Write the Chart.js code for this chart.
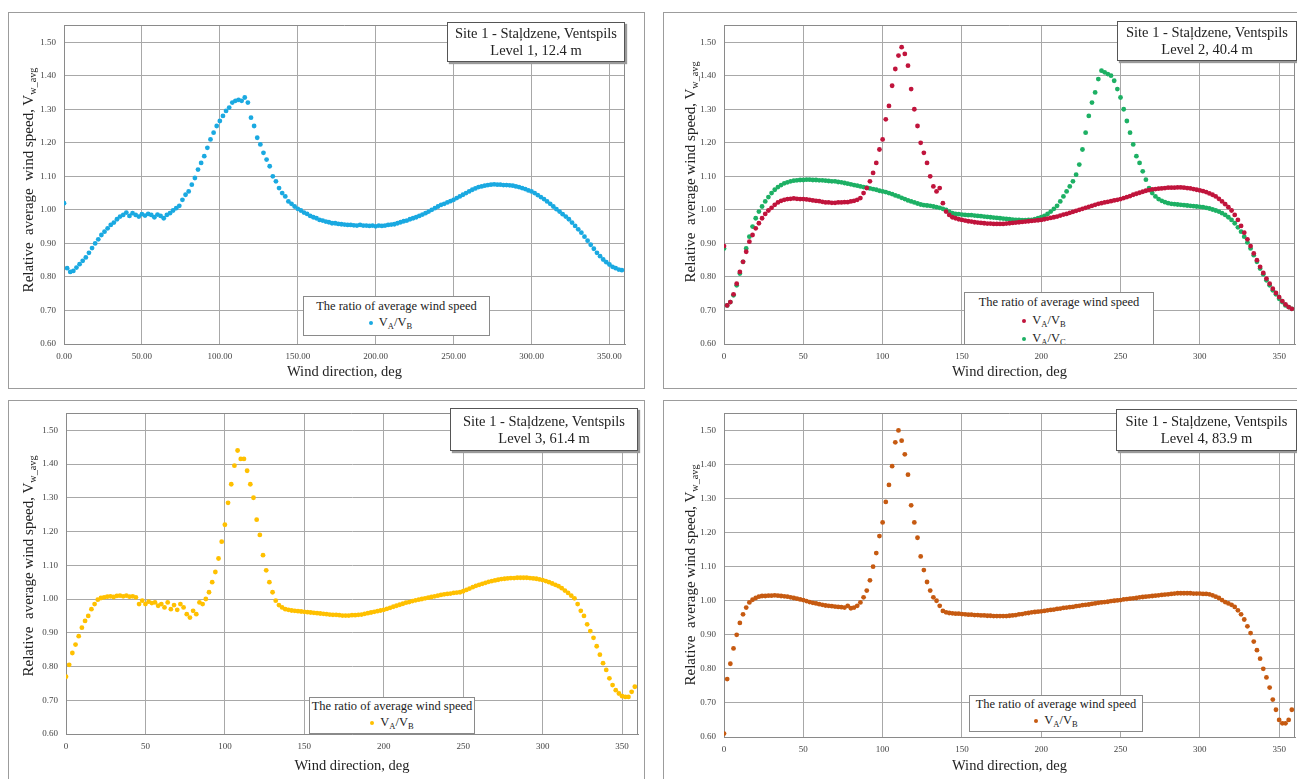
<!DOCTYPE html>
<html>
<head>
<meta charset="utf-8">
<title>Relative average wind speed - Site 1</title>
<script src="https://cdn.jsdelivr.net/npm/chart.js@4.4.1/dist/chart.umd.min.js"></script>
<style>
  html, body { margin: 0; padding: 0; }
  body { width: 1297px; height: 779px; overflow: hidden; position: relative; background: #fff;
         font-family: "Liberation Serif", "Times New Roman", serif; color: #222; }
  .panel { position: absolute; border: 1px solid #9c9c9c; box-sizing: border-box; background: #fff; }
  .panel canvas { position: absolute; left: -1px; top: -1px; }
  .titulo { position: absolute; z-index: 2; box-sizing: border-box; border: 1px solid #555; box-shadow: 2px 2px 1px #9a9a9a;
            background: #fff; text-align: center; font-size: 14.5px; line-height: 17px;
            display: flex; flex-direction: column; justify-content: center; }
  .leyenda { position: absolute; z-index: 2; box-sizing: border-box; border: 1px solid #8a8a8a; background: #fff;
             text-align: center; font-size: 12.5px; line-height: 16px; overflow: hidden; padding-top: 1px; }
  .ytitulo { position: absolute; z-index: 2; white-space: nowrap; font-size: 15px;
             transform: translate(-50%, -50%) rotate(-90deg); }
  sub { font-size: 0.68em; vertical-align: -0.35em; line-height: 0; }
  .punto { display: inline-block; width: 4px; height: 4px; border-radius: 50%; vertical-align: middle; margin-right: 6px; }
</style>
</head>
<body>

<div class="ytitulo" style="left:28px;top:180px">Relative&nbsp; average&nbsp; wind speed, V<sub>w_avg</sub></div>
<div class="ytitulo" style="left:690px;top:172px">Relative&nbsp; average wind speed, V<sub>w_avg</sub></div>
<div class="ytitulo" style="left:28px;top:566px">Relative&nbsp; average wind speed, V<sub>w_avg</sub></div>
<div class="ytitulo" style="left:690px;top:575px">Relative&nbsp; average wind speed, V<sub>w_avg</sub></div>

<div class="titulo" style="left:447px;top:22px;width:178px;height:40px">
  <div>Site 1 - Staļdzene, Ventspils</div><div>Level 1, 12.4 m</div>
</div>
<div class="titulo" style="left:1117px;top:21px;width:180px;height:40px">
  <div>Site 1 - Staļdzene, Ventspils</div><div>Level 2, 40.4 m</div>
</div>
<div class="titulo" style="left:450px;top:408px;width:188px;height:43px">
  <div>Site 1 - Staļdzene, Ventspils</div><div>Level 3, 61.4 m</div>
</div>
<div class="titulo" style="left:1116px;top:409px;width:181px;height:42px">
  <div>Site 1 - Staļdzene, Ventspils</div><div>Level 4, 83.9 m</div>
</div>

<div class="leyenda" style="left:303px;top:296px;width:187px;height:40px">
  <div>The ratio of average wind speed</div>
  <div style="padding-right:12px"><span class="punto" style="background:#1aa9e1"></span>V<sub>A</sub>/V<sub>B</sub></div>
</div>
<div class="leyenda" style="left:964px;top:292px;width:190px;height:53px;line-height:18px;padding-top:0">
  <div>The ratio of average wind speed</div>
  <div style="padding-right:30px"><span class="punto" style="background:#c0143c"></span>V<sub>A</sub>/V<sub>B</sub></div>
  <div style="padding-right:30px"><span class="punto" style="background:#1db064"></span>V<sub>A</sub>/V<sub>C</sub></div>
</div>
<div class="leyenda" style="left:309px;top:697px;width:166px;height:37px;padding-top:0">
  <div>The ratio of average wind speed</div>
  <div><span class="punto" style="background:#ffc000"></span>V<sub>A</sub>/V<sub>B</sub></div>
</div>
<div class="leyenda" style="left:969px;top:695px;width:174px;height:37px;padding-top:0">
  <div>The ratio of average wind speed</div>
  <div><span class="punto" style="background:#c65a11"></span>V<sub>A</sub>/V<sub>B</sub></div>
</div>

<script>
// DATOS:
const direcciones = [
    0, 2, 4, 6, 8, 10, 12, 14, 16, 18, 20, 22, 24, 26, 28, 30, 32, 34, 36, 38,
    40, 42, 44, 46, 48, 50, 52, 54, 56, 58, 60, 62, 64, 66, 68, 70, 72, 74, 76, 78,
    80, 82, 84, 86, 88, 90, 92, 94, 96, 98, 100, 102, 104, 106, 108, 110, 112, 114, 116, 118,
    120, 122, 124, 126, 128, 130, 132, 134, 136, 138, 140, 142, 144, 146, 148, 150, 152, 154, 156, 158,
    160, 162, 164, 166, 168, 170, 172, 174, 176, 178, 180, 182, 184, 186, 188, 190, 192, 194, 196, 198,
    200, 202, 204, 206, 208, 210, 212, 214, 216, 218, 220, 222, 224, 226, 228, 230, 232, 234, 236, 238,
    240, 242, 244, 246, 248, 250, 252, 254, 256, 258, 260, 262, 264, 266, 268, 270, 272, 274, 276, 278,
    280, 282, 284, 286, 288, 290, 292, 294, 296, 298, 300, 302, 304, 306, 308, 310, 312, 314, 316, 318,
    320, 322, 324, 326, 328, 330, 332, 334, 336, 338, 340, 342, 344, 346, 348, 350, 352, 354, 356, 358
];

// Level 1, 12.4 m  (VA/VB)
const nivel1 = [
    1.020, 0.826, 0.815, 0.818, 0.828, 0.838, 0.848, 0.858, 0.872, 0.886,
    0.900, 0.912, 0.925, 0.935, 0.945, 0.955, 0.962, 0.972, 0.980, 0.985,
    0.992, 0.982, 0.990, 0.985, 0.980, 0.987, 0.983, 0.988, 0.985, 0.978,
    0.986, 0.982, 0.975, 0.985, 0.990, 0.998, 1.005, 1.012, 1.030, 1.045,
    1.055, 1.075, 1.095, 1.120, 1.140, 1.160, 1.185, 1.210, 1.230, 1.250,
    1.265, 1.280, 1.295, 1.305, 1.320, 1.325, 1.328, 1.325, 1.335, 1.320,
    1.275, 1.250, 1.215, 1.195, 1.170, 1.150, 1.130, 1.100, 1.085, 1.065,
    1.050, 1.040, 1.025, 1.018, 1.010, 1.003, 0.998, 0.992, 0.988, 0.982,
    0.978, 0.975, 0.970, 0.968, 0.965, 0.963, 0.960, 0.960, 0.958, 0.957,
    0.956, 0.955, 0.955, 0.954, 0.953, 0.955, 0.953, 0.953, 0.952, 0.953,
    0.951, 0.953, 0.952, 0.953, 0.955, 0.956, 0.957, 0.960, 0.963, 0.966,
    0.968, 0.972, 0.975, 0.978, 0.982, 0.986, 0.990, 0.995, 1.000, 1.005,
    1.010, 1.015, 1.018, 1.022, 1.026, 1.030, 1.035, 1.040, 1.045, 1.050,
    1.055, 1.060, 1.064, 1.068, 1.070, 1.072, 1.074, 1.075, 1.076, 1.075,
    1.075, 1.074, 1.074, 1.073, 1.072, 1.070, 1.068, 1.065, 1.062, 1.058,
    1.055, 1.050, 1.044, 1.038, 1.032, 1.025, 1.018, 1.010, 1.002, 0.995,
    0.987, 0.980, 0.972, 0.962, 0.952, 0.942, 0.932, 0.920, 0.908, 0.896,
    0.884, 0.872, 0.862, 0.852, 0.844, 0.837, 0.830, 0.826, 0.822, 0.820
];

// Level 2, 40.4 m  (VA/VB)
const nivel2AB = [
    0.892, 0.715, 0.725, 0.748, 0.780, 0.815, 0.845, 0.875, 0.905, 0.925,
    0.945, 0.960, 0.975, 0.988, 0.998, 1.006, 1.015, 1.022, 1.027, 1.030,
    1.032, 1.033, 1.034, 1.033, 1.032, 1.032, 1.031, 1.030, 1.028, 1.027,
    1.026, 1.024, 1.022, 1.022, 1.021, 1.021, 1.022, 1.022, 1.023, 1.023,
    1.025, 1.027, 1.030, 1.035, 1.050, 1.065, 1.085, 1.110, 1.140, 1.180,
    1.210, 1.270, 1.310, 1.370, 1.420, 1.460, 1.485, 1.465, 1.430, 1.360,
    1.300, 1.250, 1.200, 1.170, 1.140, 1.100, 1.070, 1.055, 1.065, 1.020,
    0.995, 0.985, 0.978, 0.975, 0.972, 0.970, 0.968, 0.966, 0.965, 0.963,
    0.962, 0.961, 0.960, 0.959, 0.959, 0.958, 0.958, 0.958, 0.958, 0.959,
    0.960, 0.961, 0.962, 0.963, 0.964, 0.965, 0.966, 0.967, 0.968, 0.969,
    0.970, 0.972, 0.974, 0.976, 0.978, 0.980, 0.983, 0.986, 0.988, 0.991,
    0.994, 0.997, 1.000, 1.003, 1.006, 1.009, 1.012, 1.015, 1.018, 1.020,
    1.022, 1.024, 1.026, 1.028, 1.030, 1.032, 1.035, 1.038, 1.041, 1.045,
    1.048, 1.051, 1.054, 1.057, 1.059, 1.061, 1.062, 1.063, 1.064, 1.065,
    1.066, 1.066, 1.066, 1.067, 1.067, 1.066, 1.065, 1.064, 1.062, 1.060,
    1.058, 1.056, 1.053, 1.049, 1.045, 1.040, 1.033, 1.025, 1.017, 1.008,
    0.998, 0.985, 0.970, 0.952, 0.932, 0.912, 0.892, 0.870, 0.850, 0.830,
    0.812, 0.795, 0.780, 0.765, 0.752, 0.740, 0.728, 0.718, 0.710, 0.705
];

// Level 2, 40.4 m  (VA/VC)
const nivel2AC = [
    0.885, 0.715, 0.725, 0.745, 0.775, 0.810, 0.845, 0.885, 0.920, 0.950,
    0.975, 0.995, 1.010, 1.025, 1.038, 1.050, 1.060, 1.068, 1.074, 1.079,
    1.082, 1.085, 1.087, 1.088, 1.089, 1.089, 1.090, 1.090, 1.089, 1.089,
    1.088, 1.088, 1.087, 1.086, 1.085, 1.085, 1.083, 1.082, 1.080, 1.078,
    1.076, 1.074, 1.072, 1.070, 1.068, 1.066, 1.064, 1.062, 1.060, 1.057,
    1.055, 1.053, 1.050, 1.047, 1.043, 1.040, 1.036, 1.032, 1.028, 1.025,
    1.022, 1.019, 1.016, 1.014, 1.013, 1.012, 1.010, 1.008, 1.006, 1.003,
    1.000, 0.995, 0.990, 0.988, 0.987, 0.986, 0.985, 0.984, 0.984, 0.983,
    0.982, 0.981, 0.980, 0.979, 0.978, 0.977, 0.976, 0.975, 0.974, 0.973,
    0.972, 0.971, 0.970, 0.970, 0.969, 0.969, 0.970, 0.970, 0.972, 0.975,
    0.978, 0.982, 0.988, 0.995, 1.003, 1.012, 1.025, 1.040, 1.055, 1.070,
    1.085, 1.105, 1.135, 1.180, 1.230, 1.280, 1.320, 1.350, 1.390, 1.415,
    1.410, 1.405, 1.400, 1.385, 1.360, 1.335, 1.300, 1.265, 1.230, 1.195,
    1.160, 1.140, 1.115, 1.090, 1.065, 1.050, 1.040, 1.032, 1.027, 1.023,
    1.020, 1.018, 1.017, 1.016, 1.015, 1.014, 1.013, 1.012, 1.011, 1.010,
    1.009, 1.008, 1.006, 1.004, 1.001, 0.998, 0.995, 0.990, 0.985, 0.978,
    0.970, 0.960, 0.948, 0.935, 0.920, 0.903, 0.885, 0.865, 0.845, 0.825,
    0.808, 0.790, 0.775, 0.760, 0.748, 0.735, 0.725, 0.715, 0.710, 0.705
];

// Level 3, 61.4 m  (VA/VB)
const nivel3 = [
    0.770, 0.805, 0.840, 0.865, 0.890, 0.915, 0.935, 0.950, 0.970, 0.985,
    0.998, 1.003, 1.005, 1.007, 1.008, 1.006, 1.009, 1.010, 1.008, 1.010,
    1.007, 1.008, 1.005, 0.985, 0.995, 0.985, 0.992, 0.988, 0.990, 0.980,
    0.985, 0.975, 0.990, 0.970, 0.982, 0.968, 0.985, 0.975, 0.955, 0.945,
    0.965, 0.955, 0.990, 0.985, 1.000, 1.020, 1.050, 1.080, 1.120, 1.170,
    1.220, 1.285, 1.340, 1.395, 1.440, 1.415, 1.415, 1.380, 1.340, 1.300,
    1.235, 1.190, 1.130, 1.085, 1.050, 1.020, 0.995, 0.982, 0.975, 0.970,
    0.968, 0.966, 0.965, 0.964, 0.963, 0.962, 0.961, 0.960, 0.959, 0.958,
    0.957, 0.956, 0.955, 0.954, 0.953, 0.953, 0.952, 0.951, 0.951, 0.951,
    0.952, 0.952, 0.953, 0.954, 0.956, 0.958, 0.960, 0.962, 0.964, 0.966,
    0.968, 0.971, 0.974, 0.977, 0.980, 0.983, 0.986, 0.989, 0.991, 0.994,
    0.996, 0.998, 1.000, 1.002, 1.004, 1.006, 1.008, 1.010, 1.012, 1.014,
    1.015, 1.016, 1.018, 1.019, 1.020, 1.023, 1.027, 1.031, 1.035, 1.039,
    1.042, 1.045, 1.048, 1.051, 1.053, 1.055, 1.057, 1.059, 1.060, 1.061,
    1.062, 1.062, 1.063, 1.063, 1.063, 1.063, 1.062, 1.061, 1.060, 1.058,
    1.056, 1.053, 1.050, 1.046, 1.042, 1.038, 1.032, 1.025, 1.018, 1.010,
    1.002, 0.985, 0.965, 0.950, 0.925, 0.905, 0.885, 0.860, 0.835, 0.810,
    0.790, 0.765, 0.745, 0.730, 0.720, 0.712, 0.710, 0.710, 0.725, 0.740
];

// Level 4, 83.9 m  (VA/VB)
const nivel4 = [
    0.610, 0.770, 0.815, 0.860, 0.900, 0.935, 0.960, 0.980, 0.995, 1.003,
    1.008, 1.012, 1.014, 1.014, 1.015, 1.015, 1.016, 1.015, 1.014, 1.013,
    1.012, 1.010, 1.008, 1.006, 1.004, 1.002, 0.999, 0.996, 0.994, 0.992,
    0.990, 0.988, 0.986, 0.985, 0.984, 0.983, 0.982, 0.981, 0.980, 0.985,
    0.978, 0.980, 0.985, 0.995, 1.010, 1.030, 1.060, 1.100, 1.140, 1.190,
    1.230, 1.290, 1.340, 1.395, 1.465, 1.500, 1.470, 1.430, 1.370, 1.280,
    1.230, 1.185, 1.130, 1.090, 1.055, 1.030, 1.010, 1.000, 0.985, 0.970,
    0.966, 0.964, 0.963, 0.962, 0.962, 0.961, 0.960, 0.959, 0.959, 0.958,
    0.958, 0.957, 0.957, 0.956, 0.956, 0.955, 0.955, 0.955, 0.955, 0.955,
    0.956, 0.957, 0.958, 0.960, 0.961, 0.963, 0.964, 0.966, 0.967, 0.968,
    0.969, 0.970, 0.972, 0.973, 0.974, 0.976, 0.977, 0.979, 0.980, 0.981,
    0.982, 0.984, 0.985, 0.987, 0.988, 0.989, 0.991, 0.992, 0.994, 0.995,
    0.996, 0.997, 0.999, 1.000, 1.001, 1.002, 1.004, 1.005, 1.006, 1.007,
    1.008, 1.010, 1.011, 1.012, 1.013, 1.014, 1.015, 1.016, 1.017, 1.018,
    1.019, 1.020, 1.021, 1.022, 1.022, 1.022, 1.022, 1.022, 1.021, 1.021,
    1.021, 1.020, 1.020, 1.019, 1.016, 1.012, 1.008, 1.002, 0.996, 0.992,
    0.988, 0.982, 0.972, 0.960, 0.945, 0.925, 0.905, 0.880, 0.855, 0.830,
    0.800, 0.775, 0.745, 0.710, 0.680, 0.650, 0.640, 0.640, 0.650, 0.680
];

// caja = [left, top, width, height] del recuadro; area = [left, top, right, bottom] del grafico
const paneles = [
    { caja: [8, 12, 637, 377], area: [64, 21, 625, 344], decimalesX: 2, padTitulo: 8,
      series: [{ nombre: "VA/VB", valores: nivel1, color: "#1aa9e1" }] },
    { caja: [663, 12, 650, 377], area: [724, 21, 1295, 344], decimalesX: 0, padTitulo: 8,
      series: [{ nombre: "VA/VB", valores: nivel2AB, color: "#c0143c" },
               { nombre: "VA/VC", valores: nivel2AC, color: "#1db064" }] },
    { caja: [8, 400, 637, 385], area: [66, 408, 638, 734], decimalesX: 0, padTitulo: 10,
      series: [{ nombre: "VA/VB", valores: nivel3, color: "#ffc000" }] },
    { caja: [663, 400, 650, 385], area: [724, 409, 1295, 737], decimalesX: 0, padTitulo: 10,
      series: [{ nombre: "VA/VB", valores: nivel4, color: "#c65a11" }] }
];

Chart.defaults.font.family = "'Liberation Serif', 'Times New Roman', serif";

// marco superior y derecho del area del grafico
const marco = {
    id: "marco",
    beforeDatasetsDraw(chart) {
        const ctx = chart.ctx;
        const a = chart.chartArea;
        ctx.save();
        ctx.strokeStyle = "#8a8a8a";
        ctx.lineWidth = 1;
        ctx.beginPath();
        ctx.moveTo(Math.round(a.left), Math.round(a.top) + 0.5);
        ctx.lineTo(Math.round(a.right) - 0.5, Math.round(a.top) + 0.5);
        ctx.lineTo(Math.round(a.right) - 0.5, Math.round(a.bottom));
        ctx.stroke();
        ctx.restore();
    }
};

// FUNCIONES:
function crearPanel(panel) {
    const div = document.createElement("div");
    div.className = "panel";
    div.style.left = panel.caja[0] + "px";
    div.style.top = panel.caja[1] + "px";
    div.style.width = panel.caja[2] + "px";
    div.style.height = panel.caja[3] + "px";

    const canvas = document.createElement("canvas");
    canvas.width = panel.caja[2];
    canvas.height = panel.caja[3];
    canvas.style.width = panel.caja[2] + "px";
    canvas.style.height = panel.caja[3] + "px";
    div.appendChild(canvas);
    document.body.insertBefore(div, document.body.firstChild);

    const anchoEjeY = panel.area[0] - panel.caja[0];
    const altoEjeX = panel.caja[1] + panel.caja[3] - panel.area[3];

    new Chart(canvas.getContext("2d"), {
        type: "scatter",
        data: {
            datasets: panel.series.map(function(serie) {
                return {
                    label: serie.nombre,
                    data: direcciones.map((d, i) => ({ x: d, y: serie.valores[i] })),
                    backgroundColor: serie.color,
                    borderWidth: 0,
                    pointRadius: 2.4,
                    pointHoverRadius: 2.4
                };
            })
        },
        options: {
            responsive: false,
            animation: false,
            devicePixelRatio: 1,
            layout: {
                padding: {
                    left: 0,
                    top: panel.area[1] - panel.caja[1],
                    right: panel.caja[0] + panel.caja[2] - panel.area[2],
                    bottom: 0
                }
            },
            plugins: {
                legend: { display: false },
                tooltip: { enabled: false }
            },
            scales: {
                x: {
                    type: "linear",
                    min: 0,
                    max: 360,
                    afterFit: function(escala) { escala.height = altoEjeX; },
                    ticks: {
                        stepSize: 50,
                        includeBounds: false,
                        autoSkip: false,
                        maxRotation: 0,
                        padding: 7,
                        color: "#444",
                        font: { size: 9 },
                        callback: v => v.toFixed(panel.decimalesX)
                    },
                    grid: { color: "#a8a8a8", drawTicks: false },
                    border: { color: "#8a8a8a" },
                    title: {
                        display: true,
                        text: "Wind direction, deg",
                        color: "#222",
                        font: { size: 14.5 },
                        padding: { top: 0, bottom: panel.padTitulo }
                    }
                },
                y: {
                    min: 0.6,
                    max: 1.55,
                    afterFit: function(escala) { escala.width = anchoEjeY; },
                    ticks: {
                        stepSize: 0.1,
                        includeBounds: false,
                        padding: 8,
                        color: "#444",
                        font: { size: 9 },
                        callback: v => v.toFixed(2)
                    },
                    grid: { color: "#a8a8a8", drawTicks: false },
                    border: { color: "#8a8a8a" }
                }
            }
        },
        plugins: [marco]
    });
}

paneles.forEach(crearPanel);
</script>
</body>
</html>
